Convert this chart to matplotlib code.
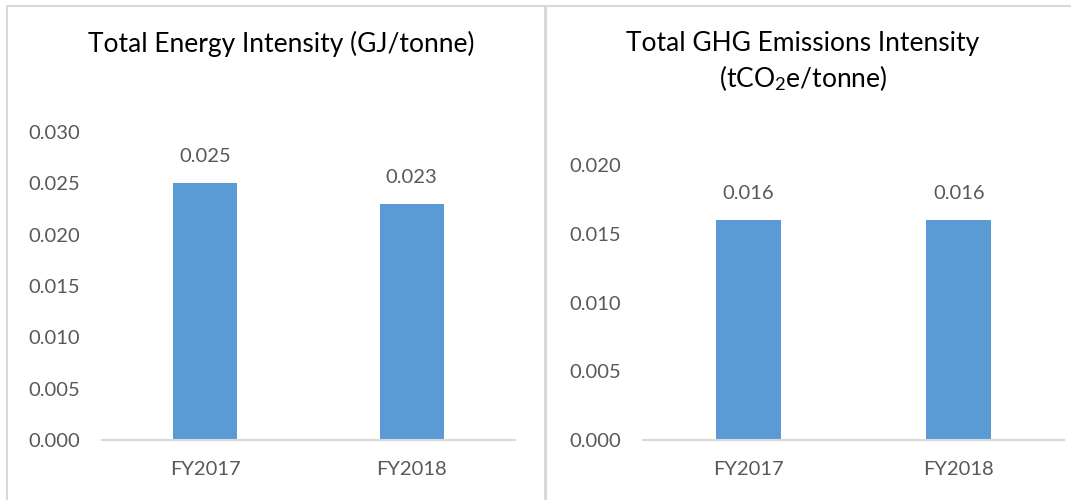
import matplotlib
matplotlib.use("Agg")
import matplotlib.pyplot as plt
from matplotlib.patches import Rectangle

plt.rcParams['font.family'] = ['Lato', 'DejaVu Sans']
plt.rcParams['mathtext.fontset'] = 'custom'
plt.rcParams['mathtext.rm'] = 'Lato'
plt.rcParams['mathtext.it'] = 'Lato:italic'
plt.rcParams['mathtext.bf'] = 'Lato:bold'

categories = ["FY2017", "FY2018"]
energy_values = [0.025, 0.023]
ghg_values = [0.016, 0.016]
energy_ticks = [0.000, 0.005, 0.010, 0.015, 0.020, 0.025, 0.030]
ghg_ticks = [0.000, 0.005, 0.010, 0.015, 0.020]
energy_title = "Total Energy Intensity (GJ/tonne)"
ghg_title_line1 = "Total GHG Emissions Intensity"
ghg_title_line2 = "(tCO$_2$e/tonne)"

W, H = 1071, 500
fig = plt.figure(figsize=(W / 100, H / 100), dpi=100)

BAR = "#5B9BD5"
GRAY_LINE = "#D9D9D9"
TXT = "#595959"

# panel borders (bottom / right edges run off the canvas as in the reference)
fig.add_artist(Rectangle((6.5 / W, -0.05), (545 - 6.5) / W, 1.05 - 6.5 / H,
                         transform=fig.transFigure, fill=False,
                         edgecolor=GRAY_LINE, linewidth=1.5))
fig.add_artist(Rectangle((546 / W, -0.05), (1090 - 546) / W, 1.05 - 6.5 / H,
                         transform=fig.transFigure, fill=False,
                         edgecolor=GRAY_LINE, linewidth=1.5))


def make_panel(rect, values, ticks):
    ax = fig.add_axes(rect)
    x = list(range(len(categories)))
    ax.bar(x, values, width=0.31, color=BAR, zorder=2)
    ax.set_xlim(-0.5, len(categories) - 0.5)
    ax.set_ylim(ticks[0], ticks[-1])
    ax.set_yticks(ticks)
    ax.set_yticklabels([f"{t:.3f}" for t in ticks])
    ax.set_xticks(x)
    ax.set_xticklabels(categories)
    for s in ["top", "right", "left"]:
        ax.spines[s].set_visible(False)
    ax.spines["bottom"].set_color(GRAY_LINE)
    ax.spines["bottom"].set_linewidth(1.5)
    ax.tick_params(axis="both", length=0, labelsize=14.5, colors=TXT)
    ax.tick_params(axis="y", pad=16)
    ax.tick_params(axis="x", pad=15)
    for xi, v in zip(x, values):
        ax.annotate(f"{v:.3f}", (xi, v), xytext=(0, 19), textcoords="offset points",
                    ha="center", va="center", fontsize=14.5, color=TXT)
    ax.patch.set_alpha(0)
    return ax

make_panel([102 / W, 60 / H, 413 / W, 308 / H], energy_values, energy_ticks)
make_panel([643 / W, 60 / H, 421 / W, 275 / H], ghg_values, ghg_ticks)

fig.text(281 / W, 1 - 44 / H, energy_title, ha="center", va="center",
         fontsize=19, color="black")
fig.text(803 / W, 1 - 44 / H, ghg_title_line1, ha="center", va="center",
         fontsize=19, color="black")
fig.text(803 / W, 1 - 78 / H, ghg_title_line2, ha="center", va="center",
         fontsize=19, color="black")

fig.savefig("out.png", dpi=100)
